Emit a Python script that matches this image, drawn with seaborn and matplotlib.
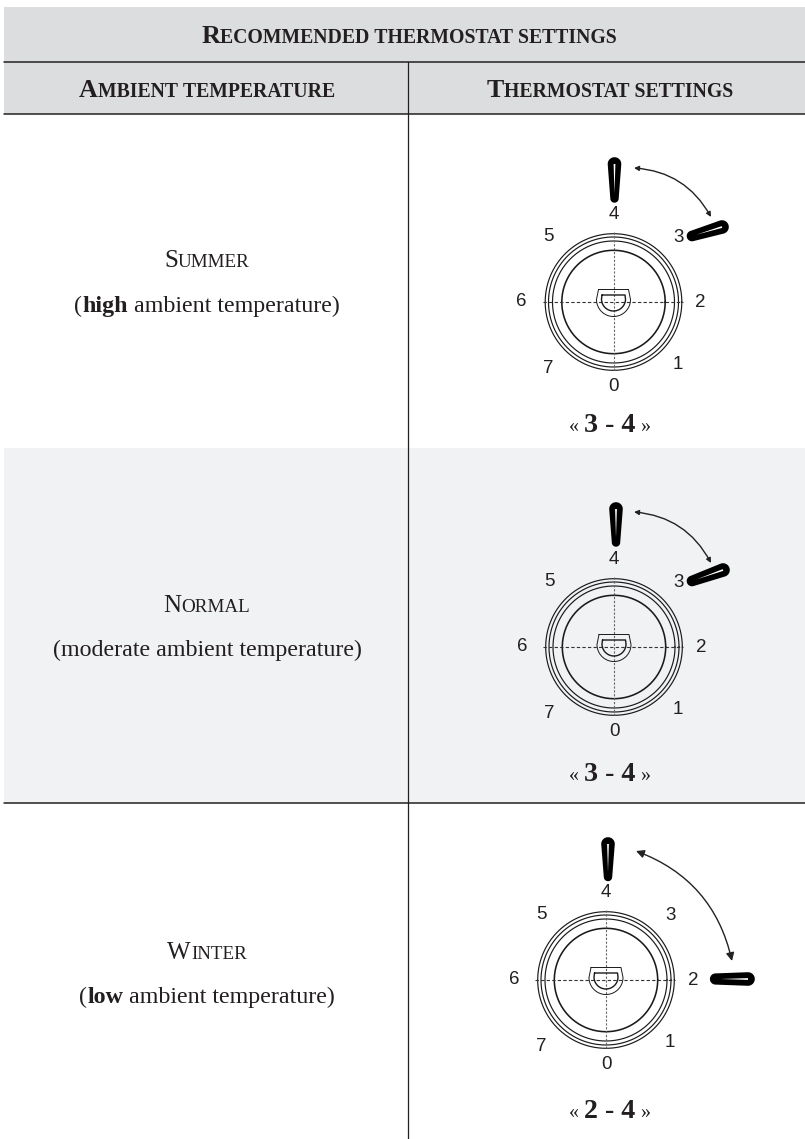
import numpy as np
import pandas as pd
import matplotlib
matplotlib.use("Agg")
import matplotlib.pyplot as plt
from matplotlib.patches import FancyArrowPatch
import seaborn as sns

# ── Table content ─────────────────────────────────────────────────────────────
TITLE = "Recommended thermostat settings"
HEADERS = ["Ambient temperature", "Thermostat settings"]
SEASONS = ["Summer", "Normal", "Winter"]
AMBIENT_PREFIX = ["(", "(", "("]
AMBIENT_BOLD = ["high", "", "low"]
AMBIENT_REST = [" ambient temperature)", "moderate ambient temperature)", " ambient temperature)"]
SETTING_LOW = [3, 3, 2]
SETTING_HIGH = [4, 4, 4]
DIAL_NUMBERS = [0, 1, 2, 3, 4, 5, 6, 7]

# ── Layout (pixels) ───────────────────────────────────────────────────────────
W, H = 805, 1139
INK = "#231f20"
HEAD_BG = "#dcddde"
ROW_BG = "#f1f2f4"
LEFT, SPLIT = 4, 408
Y_TOP, Y_H1, Y_H2, Y_R1, Y_R2 = 7, 62, 114, 448, 803
CENTERS = [(613.5, 302), (614, 647), (606, 980)]
SEASON_Y = [267, 612, 959]
AMBIENT_Y = [312, 656, 1003]
SETTING_TEXT = [(610, 432), (610, 781), (610, 1118)]
# offset of each dial number from the dial centre
NUMBER_OFFSETS = [(0, 83), (64, 61), (87, -1), (65, -66), (0, -89), (-65, -67), (-92, -2), (-65, 65)]
# handles: (x0, y0, x1, y1, r0) narrow end first
HANDLES = [
    [(614.5, 198.5, 614.5, 164, 4.2), (692, 236, 722, 227, 5.3)],
    [(616, 542.5, 616, 509, 4.2), (692, 581, 723, 570, 5.3)],
    [(608, 877, 608, 844, 4.2), (715.5, 979, 748, 979, 5.6)],
]
ARROWS = [((634, 168), (711, 217), -0.27, 7), ((634, 512), (711, 563), -0.27, 7), ((636, 851), (732, 961), -0.27, 12)]
RINGS = [(68.3, 0.85), (65, 0.85), (61, 0.85), (51.7, 1.15)]

sns.set_theme(style="white")
plt.rcParams["font.family"] = ["Liberation Serif", "DejaVu Serif"]

fig, ax = plt.subplots(figsize=(W / 100, H / 100), dpi=100)
fig.subplots_adjust(0, 0, 1, 1)
ax.set_axis_off()
renderer = fig.canvas.get_renderer()


def text_runs(cx, cy, runs):
    # runs are (text, px size, weight), laid out in a row and centred on cx
    widths = []
    for s, size, weight in runs:
        t = ax.text(0, 0, s.replace(" ", "\u00a0"), fontsize=size * 0.72, fontweight=weight)
        widths.append(t.get_window_extent(renderer).width)
        t.remove()
    x = cx - sum(widths) / 2
    for (s, size, weight), w in zip(runs, widths):
        ax.text(x, cy, s.replace(" ", "\u00a0"), fontsize=size * 0.72, fontweight=weight,
                color=INK, va="baseline", ha="left")
        x += w


def small_caps(s, size, weight):
    # capital first letter, rest uppercase at a smaller size
    return [(s[0].upper(), size, weight), (s[1:].upper(), size * 0.76, weight)]


def line(xs, ys, lw=0.75, color="#1a1a1a", ls="-"):
    df = pd.DataFrame({"x": xs, "y": ys})
    sns.lineplot(data=df, x="x", y="y", sort=False, estimator=None, ax=ax,
                 color=color, linewidth=lw, linestyle=ls, legend=False)


def draw_handle(x0, y0, x1, y1, r0):
    # tapered pointer with round ends and a thin highlight down the middle
    d = np.array([x1 - x0, y1 - y0], float)
    ang = np.arctan2(d[1], d[0])
    r1 = 6.8
    a = np.linspace(ang + np.pi / 2, ang + 3 * np.pi / 2, 20)
    b = np.linspace(ang - np.pi / 2, ang + np.pi / 2, 20)
    px = np.r_[x0 + r0 * np.cos(a), x1 + r1 * np.cos(b)]
    py = np.r_[y0 + r0 * np.sin(a), y1 + r1 * np.sin(b)]
    ax.fill(px, py, color="black", lw=0, zorder=3)
    n = np.array([-d[1], d[0]]) / np.hypot(*d)
    s = np.array([x0, y0]) + d * 0.15
    e = np.array([x1, y1])
    ax.fill([s[0], e[0] + n[0] * 0.9, e[0] - n[0] * 0.9], [s[1], e[1] + n[1] * 0.9, e[1] - n[1] * 0.9],
            color="white", lw=0, zorder=4)


def draw_dial(cx, cy, idx):
    t = np.linspace(0, 2 * np.pi, 240)
    for r, lw in RINGS:
        line(cx + r * np.cos(t), cy + r * np.sin(t), lw=lw)
    line([cx - 71, cx + 69], [cy, cy], lw=0.8, color="#333333", ls=(0, (3, 2)))
    line([cx, cx], [cy - 70, cy + 70], lw=0.8, color="#666666", ls=(0, (2, 1.5)))
    # knob, outer and inner D shapes
    arc = np.linspace(np.pi, 0, 60)
    line(np.r_[cx - 15, cx + 17 * np.cos(arc), cx + 15, cx - 15],
         np.r_[cy - 12.5, cy - 2.5 + 17 * np.sin(arc), cy - 12.5, cy - 12.5], lw=0.7)
    line(np.r_[cx - 11.5, cx + 12 * np.cos(arc), cx + 11.5, cx - 11.5],
         np.r_[cy - 7, cy - 3 + 12 * np.sin(arc), cy - 7, cy - 7], lw=1.0)
    for num, (dx, dy) in zip(DIAL_NUMBERS, NUMBER_OFFSETS):
        ax.text(cx + dx, cy + dy + 1.5, str(num), fontsize=13.5, color=INK,
                family=["Liberation Sans"], ha="center", va="center", zorder=5)
    for hx in HANDLES[idx]:
        draw_handle(*hx)
    start, end, rad, head = ARROWS[idx]
    ax.add_patch(FancyArrowPatch(start, end, connectionstyle=f"arc3,rad={rad}", arrowstyle="<|-|>",
                                 mutation_scale=head, lw=1.0, color="#222222", zorder=3,
                                 shrinkA=0, shrinkB=0))


# backgrounds and rules
ax.axhspan(Y_TOP, Y_H2, xmin=LEFT / W, xmax=1, color=HEAD_BG, lw=0)
ax.axhspan(Y_R1, Y_R2, xmin=LEFT / W, xmax=1, color=ROW_BG, lw=0)
for y in [Y_H1, Y_H2, Y_R2]:
    line([LEFT, W], [y, y], lw=1.1, color=INK)
line([SPLIT, SPLIT], [Y_H1, H], lw=0.9, color=INK)

text_runs(409, 43, small_caps(TITLE, 26, "bold"))
text_runs(207, 97, small_caps(HEADERS[0], 26, "bold"))
text_runs(610, 97, small_caps(HEADERS[1], 26, "bold"))

for i, season in enumerate(SEASONS):
    text_runs(207, SEASON_Y[i], small_caps(season, 25, "normal"))
    text_runs(207, AMBIENT_Y[i], [(AMBIENT_PREFIX[i], 24, "normal"), (AMBIENT_BOLD[i], 24, "bold"),
                                  (AMBIENT_REST[i], 24, "normal")])
    draw_dial(*CENTERS[i], i)
    sx, sy = SETTING_TEXT[i]
    text_runs(sx, sy, [("« ", 20, "normal"), (f"{SETTING_LOW[i]} - {SETTING_HIGH[i]}", 28, "bold"), (" »", 20, "normal")])

ax.set_xlim(0, W)
ax.set_ylim(H, 0)
fig.savefig("out.png", dpi=100, facecolor="white")
